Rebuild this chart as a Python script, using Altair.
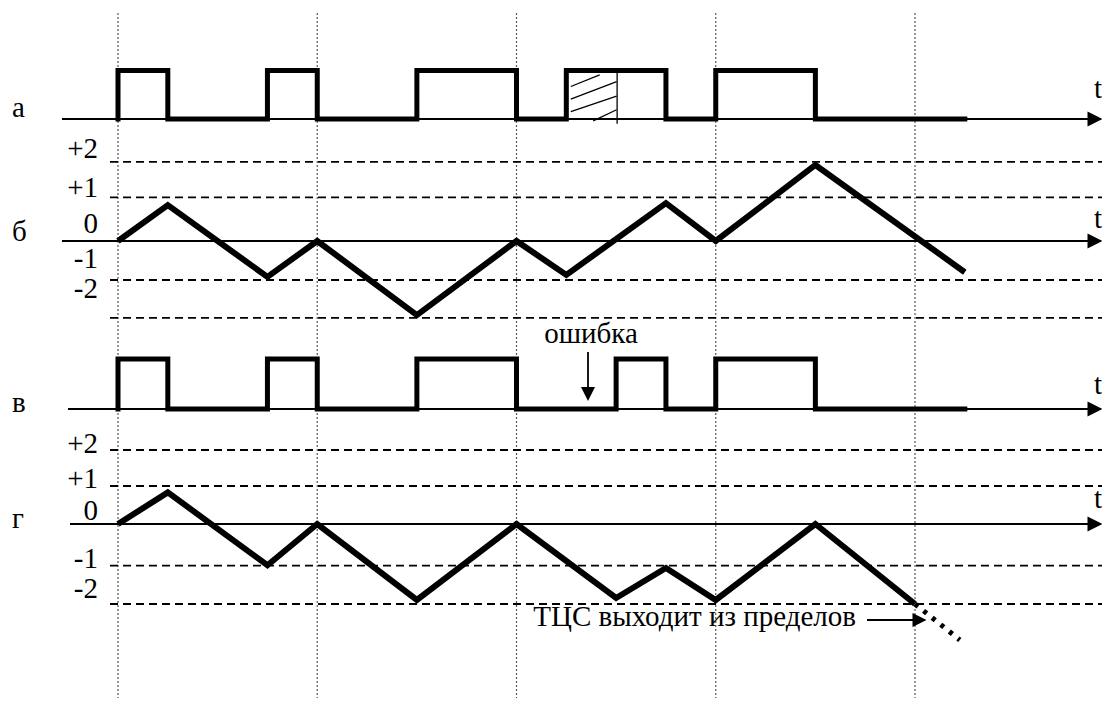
import altair as alt
import pandas as pd

# ---------------- data ----------------
# bit sequences (one value per bit interval)
BITS_A = [1, 0, 0, 1, 0, 0, 1, 1, 0, 1, 1, 0, 1, 1, 0, 0, 0]
BITS_V = [1, 0, 0, 1, 0, 0, 1, 1, 0, 0, 1, 0, 1, 1, 0, 0, 0]

# triangular (running digital sum) curves: time in bit units, level values
TRI_B_T = [0, 1, 3, 4, 6, 8, 9, 11, 12, 14, 17]
TRI_B_LV = [0, 0.92, -0.92, 0, -1.9, 0, -0.87, 0.97, 0, 1.95, -0.8]
TRI_G_T = [0, 1, 3, 4, 6, 8, 10, 11, 12, 14, 16]
TRI_G_LV = [0, 0.79, -1.03, 0, -1.9, 0, -1.85, -1.1, -1.9, 0, -2.0]
TRI_G_OUT_T = [16, 16.9]
TRI_G_OUT_LV = [-2.0, -2.9]

# dashed reference levels
GRID_B_LV = [2.03, 1.12, -1.0, -1.97]
GRID_G_LV = [1.85, 0.95, -1.04, -2.0]

# vertical frame markers (every 4 bits)
FRAME_T = [0, 4, 8, 12, 16]

LEVEL_LABELS = ["+2", "+1", "0", "-1", "-2"]
LEVEL_LABEL_B_LV = [2.13, 1.13, 0.2, -0.69, -1.46]
LEVEL_LABEL_G_LV = [1.78, 0.9, 0.1, -1.1, -1.85]

PANELS = ["а", "б", "в", "г"]
PANEL_LETTER_LV = [0.04, 0.0, -0.06, -0.1]
T_LABEL_LV = [0.43, 0.33, 0.3, 0.4]
AXIS_START_T = [-1.124, -1.124, -1.004, -0.964]

# hatch segments inside the first pulse of the second word in "а" (t, level)
HATCH_T1 = [9.09, 9.09, 9.09, 9.54]
HATCH_LV1 = [0.67, 0.41, 0.15, -0.04]
HATCH_T2 = [9.67, 10.01, 10.01, 10.01]
HATCH_LV2 = [0.91, 0.77, 0.47, 0.19]

ERR_TEXT = "ошибка"
OUT_TEXT = "ТЦС выходит из пределов"

# ---------------- layout (pixels) ----------------
T0_PX = 118.0
UNIT_PX = 49.8125
PAGE_MARGIN = 8
W, H = 1094, 690
# per panel: baseline screen y, pixels per level
LAYOUT = {"а": (119, 48.5), "б": (241, 39), "в": (409, 50), "г": (524, 40)}
FONT = "Liberation Serif, Times New Roman, serif"
FS = 29


def sy(panel, lv):
    base, unit = LAYOUT[panel]
    return base - lv * unit


def t_of(px):
    return (px - T0_PX) / UNIT_PX


X_DOMAIN = [t_of(PAGE_MARGIN), t_of(PAGE_MARGIN + W)]
xs = alt.Scale(domain=X_DOMAIN, nice=False, zero=False)
ys = alt.Scale(domain=[PAGE_MARGIN, PAGE_MARGIN + H], reverse=True, nice=False, zero=False)


def X(f="t"):
    return alt.X(f"{f}:Q", scale=xs, axis=None)


def Y(f="sy"):
    return alt.Y(f"{f}:Q", scale=ys, axis=None)


# ---------------- build tables ----------------
def pulse_df(bits, panel):
    rows = [{"t": 0, "sy": sy(panel, 0), "o": 0}]
    for i, b in enumerate(bits):
        rows.append({"t": i, "sy": sy(panel, b), "o": i + 1})
    rows.append({"t": len(bits), "sy": sy(panel, bits[-1]), "o": len(bits) + 1})
    d = pd.DataFrame(rows)
    d["panel"] = panel
    return d


pulses = pd.concat([pulse_df(BITS_A, "а"), pulse_df(BITS_V, "в")])

tri = pd.concat([
    pd.DataFrame({"t": TRI_B_T, "sy": [sy("б", v) for v in TRI_B_LV], "panel": "б",
                  "o": range(len(TRI_B_T))}),
    pd.DataFrame({"t": TRI_G_T, "sy": [sy("г", v) for v in TRI_G_LV], "panel": "г",
                  "o": range(len(TRI_G_T))}),
])
tri_out = pd.DataFrame({"t": TRI_G_OUT_T, "sy": [sy("г", v) for v in TRI_G_OUT_LV],
                        "o": [0, 1]})

RIGHT_EDGE = PAGE_MARGIN + W
grid = pd.DataFrame(
    [{"t": t_of(110), "t2": t_of(RIGHT_EDGE), "sy": sy("б", v)} for v in GRID_B_LV]
    + [{"t": t_of(110), "t2": t_of(RIGHT_EDGE), "sy": sy("г", v)} for v in GRID_G_LV]
)

axes_df = pd.DataFrame([
    {"t": AXIS_START_T[i], "t2": t_of(1096), "sy": sy(p, 0)} for i, p in enumerate(PANELS)
])
axis_heads = pd.DataFrame([{"t": t_of(1095), "sy": sy(p, 0)} for p in PANELS])

frames = pd.DataFrame({"t": FRAME_T})

level_labels = pd.DataFrame(
    [{"t": t_of(98), "sy": sy("б", v), "txt": s} for s, v in zip(LEVEL_LABELS, LEVEL_LABEL_B_LV)]
    + [{"t": t_of(98), "sy": sy("г", v), "txt": s} for s, v in zip(LEVEL_LABELS, LEVEL_LABEL_G_LV)]
)
panel_letters = pd.DataFrame([
    {"t": t_of(12), "sy": sy(p, PANEL_LETTER_LV[i]), "txt": p} for i, p in enumerate(PANELS)
])
t_labels = pd.DataFrame([
    {"t": t_of(1094), "sy": sy(p, T_LABEL_LV[i]), "txt": "t"} for i, p in enumerate(PANELS)
])

hatch = pd.DataFrame({
    "t": HATCH_T1, "t2": HATCH_T2,
    "sy": [sy("а", v) for v in HATCH_LV1], "sy2": [sy("а", v) for v in HATCH_LV2],
})
hatch_edge = pd.DataFrame({"t": [10.02], "sy": [sy("а", 0.97)], "sy2": [sy("а", -0.1)]})

# annotations
err_text = pd.DataFrame({"t": [t_of(591)], "sy": [343], "txt": [ERR_TEXT]})
err_arrow = pd.DataFrame({"t": [t_of(588)], "sy": [sy("в", 1.14)], "sy2": [sy("в", 0.3)]})
err_head = pd.DataFrame({"t": [t_of(588)], "sy": [sy("в", 0.3)]})
out_text = pd.DataFrame({"t": [t_of(856)], "sy": [sy("г", -2.56)], "txt": [OUT_TEXT]})
out_arrow = pd.DataFrame({"t": [t_of(867)], "t2": [t_of(914)], "sy": [sy("г", -2.4)]})
out_head = pd.DataFrame({"t": [t_of(919.5)], "sy": [sy("г", -2.4)]})

RIGHT_HEAD = "M1,0L-1,-1L-1,1Z"
DOWN_HEAD = "M0,1L-1,-1L1,-1Z"

# ---------------- layers ----------------
frame_layer = alt.Chart(frames).mark_rule(
    color="#555", strokeWidth=1.2, strokeDash=[2, 2]
).encode(x=X(), y=alt.value(5), y2=alt.value(H))

grid_layer = alt.Chart(grid).mark_rule(
    color="black", strokeWidth=1.8, strokeDash=[8, 5]
).encode(x=X(), x2="t2:Q", y=Y())

axis_layer = alt.Chart(axes_df).mark_rule(color="black", strokeWidth=2).encode(
    x=X(), x2="t2:Q", y=Y())

axis_head_layer = alt.Chart(axis_heads).mark_point(
    shape=RIGHT_HEAD, size=225, filled=True, color="black", opacity=1, strokeWidth=0
).encode(x=X(), y=Y())

pulse_layer = alt.Chart(pulses).mark_line(
    interpolate="step-after", color="black", strokeWidth=5, strokeJoin="miter", strokeCap="square"
).encode(x=X(), y=Y(), detail="panel:N", order="o:Q")

tri_layer = alt.Chart(tri).mark_line(
    color="black", strokeWidth=6, strokeJoin="miter", strokeCap="butt"
).encode(x=X(), y=Y(), detail="panel:N", order="o:Q")

tri_out_layer = alt.Chart(tri_out).mark_line(
    color="black", strokeWidth=5, strokeDash=[4, 7]
).encode(x=X(), y=Y(), order="o:Q")

hatch_layer = alt.Chart(hatch).mark_rule(color="black", strokeWidth=1.3).encode(
    x=X(), x2="t2:Q", y=Y(), y2="sy2:Q")
hatch_edge_layer = alt.Chart(hatch_edge).mark_rule(color="black", strokeWidth=1.3).encode(
    x=X(), y=Y(), y2="sy2:Q")


def text_layer(df, align):
    return alt.Chart(df).mark_text(
        font=FONT, fontSize=FS, color="black", align=align, baseline="alphabetic"
    ).encode(x=X(), y=Y(), text="txt:N")


err_arrow_layer = alt.Chart(err_arrow).mark_rule(color="black", strokeWidth=1.8).encode(
    x=X(), y=Y(), y2="sy2:Q")
err_head_layer = alt.Chart(err_head).mark_point(
    shape=DOWN_HEAD, size=196, filled=True, color="black", opacity=1, strokeWidth=0
).encode(x=X(), y=Y())
out_arrow_layer = alt.Chart(out_arrow).mark_rule(color="black", strokeWidth=1.8).encode(
    x=X(), x2="t2:Q", y=Y())
out_head_layer = alt.Chart(out_head).mark_point(
    shape=RIGHT_HEAD, size=196, filled=True, color="black", opacity=1, strokeWidth=0
).encode(x=X(), y=Y())

chart = alt.layer(
    frame_layer, grid_layer, axis_layer, axis_head_layer,
    hatch_layer, hatch_edge_layer,
    pulse_layer, tri_layer, tri_out_layer,
    text_layer(level_labels, "right"), text_layer(panel_letters, "left"),
    text_layer(t_labels, "left"),
    text_layer(err_text, "center"), err_arrow_layer, err_head_layer,
    text_layer(out_text, "right"), out_arrow_layer, out_head_layer,
).properties(
    width=W, height=H, padding=0, background="white",
    autosize=alt.AutoSizeParams(type="none"),
).configure_view(stroke=None)

chart.save("out.html", embed_options={"renderer": "svg", "actions": False})
